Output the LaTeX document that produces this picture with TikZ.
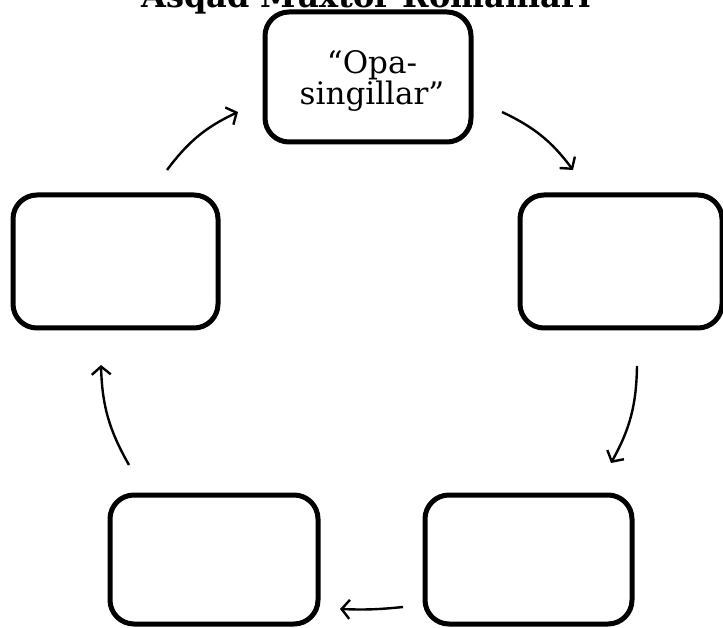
\documentclass[tikz,border=0pt]{standalone}
\usepackage{fontspec}
\setmainfont{DejaVu Serif}
\usetikzlibrary{arrows.meta}
\begin{document}
\begin{tikzpicture}[x=1pt,y=1pt,
  card/.style={draw=black,line width=5pt,rounded corners=24pt,fill=white},
  flow/.style={line width=2.4pt,-{Straight Barb[length=8pt,width=19pt,line width=2.4pt]},bend left=14}]
\useasboundingbox (0,0) rectangle (723,-628);
% title (clipped at the top edge, as in the reference)
\node[anchor=base,inner sep=0pt,font=\bfseries\fontsize{32}{32}\selectfont] (title) at (366,-8) {Asqad Muxtor Romanlari};
% boxes
\draw[card] (265,-12) rectangle (471,-142);
\node[align=center,inner sep=0pt,font=\fontsize{31}{31}\selectfont] (top) at (372,-81) {“Opa-\\singillar”};
\draw[card] (13,-195) rectangle (218,-328);
\draw[card] (520,-195) rectangle (722,-328);
\draw[card] (425,-495) rectangle (632,-624);
\draw[card] (110,-495) rectangle (318,-624);
% connector ends
\coordinate (a1) at (167,-170); \coordinate (a2) at (238,-112);
\coordinate (b1) at (502,-112); \coordinate (b2) at (573,-170);
\coordinate (c1) at (637,-366); \coordinate (c2) at (611,-463);
\coordinate (d1) at (403,-607); \coordinate (d2) at (340,-609);
\coordinate (e1) at (129,-465); \coordinate (e2) at (101,-365);
\draw[flow] (a1) to (a2);
\draw[flow] (b1) to (b2);
\draw[flow] (c1) to (c2);
\draw[flow,bend left=4] (d1) to (d2);
\draw[flow] (e1) to (e2);
\end{tikzpicture}
\end{document}
